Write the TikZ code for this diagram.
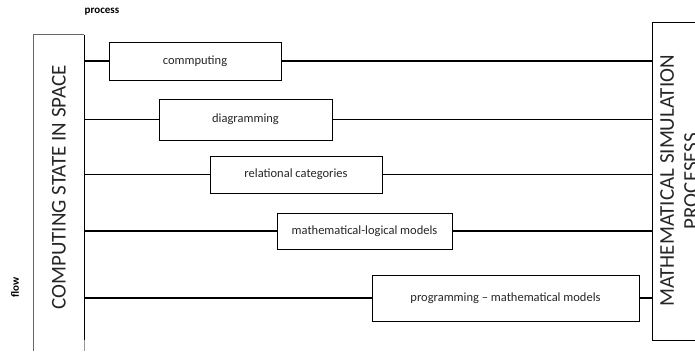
\documentclass[tikz,border=0pt]{standalone}
\usepackage{fontspec}
\setmainfont{Carlito}
\begin{document}
\begin{tikzpicture}[x=1pt,y=-1pt,
  stagebox/.style={draw=black,line width=1pt,fill=white,inner sep=0pt,
    font=\fontsize{12.5}{14}\selectfont,text=black!85},
  link/.style={line width=1.8pt,black},
  sidebox/.style={inner sep=0pt,font=\fontsize{21}{24}\selectfont,text=black!85},
  tag/.style={font=\bfseries\fontsize{11}{12}\selectfont}]
\clip (0,0) rectangle (695,351);
\useasboundingbox (0,0) rectangle (695,351);

% labels of the two axes
\node[tag] (proc) at (102,12) {process};
\node[tag,rotate=90] (flow) at (15,287) {flow};

% left column: the computing state
\node[sidebox,minimum width=50pt,minimum height=305pt] (L) at (59,187.5)
  {\rotatebox{90}{COMPUTING STATE IN SPACE}};
\draw[black!60,line width=0.8pt] ([yshift=-11pt]L.south west) -- (L.north west) -- (L.north east);
\draw[black,line width=1.3pt] (L.north east) -- (L.south east);
\draw[black!40,line width=0.6pt] (L.south east) -- ([yshift=-11pt]L.south east);

% right column: the simulation processes
\node[sidebox,draw=black,line width=1pt,minimum width=58pt,minimum height=318pt] (R) at (681,181)
  {\rotatebox{90}{\begin{tabular}{@{}c@{}}MATHEMATICAL SIMULATION\\PROCESESS\end{tabular}}};

% stages
\node[stagebox,minimum width=172pt,minimum height=38pt] (s1) at (195,61) {commputing};
\node[stagebox,minimum width=173pt,minimum height=41pt] (s2) at (245.5,119.5) {diagramming};
\node[stagebox,minimum width=172pt,minimum height=37pt] (s3) at (296,174.5) {relational categories};
\node[stagebox,minimum width=175pt,minimum height=36pt] (s4) at (364.5,231) {mathematical-logical models};
\node[stagebox,minimum width=267pt,minimum height=46pt] (s5) at (505.5,298) {programming -- mathematical models};

% connectors from the state column through each stage to the processes
\foreach \s in {s1,s2,s3,s4,s5}{
  \draw[link] (L.east |- \s.west) -- (\s.west);
  \draw[link] (\s.east) -- (R.west |- \s.east);
}
\end{tikzpicture}
\end{document}
